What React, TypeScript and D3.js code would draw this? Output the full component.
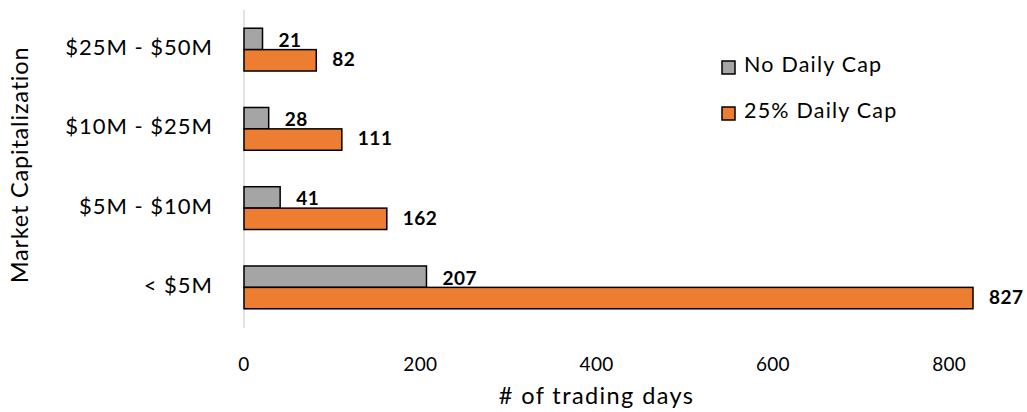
import React from 'react';
import * as d3 from 'd3';

const WIDTH = 1027;
const HEIGHT = 412;

const categories = ['$25M - $50M', '$10M - $25M', '$5M - $10M', '< $5M'];
const noCapValues = [21, 28, 41, 207];
const dailyCapValues = [82, 111, 162, 827];
const seriesNames = ['No Daily Cap', '25% Daily Cap'];
const seriesColors = ['#a5a5a5', '#ed7d31'];
const xTicks = [0, 200, 400, 600, 800];

const FONT = 'Lato, "Open Sans", sans-serif';

const margin = {top: 10, right: 54, bottom: 85, left: 244};

export default function App() {
    const xScale = d3.scaleLinear()
        .domain([0, 827])
        .range([margin.left, 973]);

    const yScale = d3.scaleBand<string>()
        .domain(categories)
        .range([margin.top, HEIGHT - margin.bottom])
        .paddingInner(0.46)
        .paddingOuter(0.23);

    const barH = yScale.bandwidth() / 2;
    const series = [noCapValues, dailyCapValues];
    const plotMidX = (xScale(0) + xScale(800)) / 2;

    return (
        <svg width={WIDTH} height={HEIGHT}
             style={{position: 'absolute', left: 0, top: 0, background: 'white'}}>
            {/* vertical axis line */}
            <line x1={xScale(0)} x2={xScale(0)} y1={margin.top} y2={HEIGHT - margin.bottom + 1}
                  stroke="#d9d9d9" strokeWidth={1.5}/>

            {/* bars */}
            {categories.map((cat, i) => (
                <g key={cat}>
                    {series.map((vals, s) => {
                        const y = (yScale(cat) || 0) + s * barH;
                        return (
                            <g key={s}>
                                <rect x={xScale(0)} y={y}
                                      width={xScale(vals[i]) - xScale(0)} height={barH}
                                      fill={seriesColors[s]} stroke="#000" strokeWidth={1.5}/>
                                <text x={xScale(vals[i]) + 16} y={y + barH / 2 + (s === 0 ? 3 : 1)}
                                      dominantBaseline="middle" fontFamily={FONT} fontWeight="bold"
                                      fontSize={19} letterSpacing={0.5} fill="#000">{vals[i]}</text>
                            </g>
                        );
                    })}
                    <text x={213} y={(yScale(cat) || 0) + yScale.bandwidth() / 2}
                          textAnchor="end" dominantBaseline="middle" fontFamily={FONT}
                          fontSize={22} letterSpacing={1} fill="#000">{cat}</text>
                </g>
            ))}

            {/* x tick labels */}
            {xTicks.map(t => (
                <text key={t} x={xScale(t)} y={366} textAnchor="middle" dominantBaseline="middle"
                      fontFamily={FONT} fontSize={19} letterSpacing={0.3} fill="#000">{t}</text>
            ))}

            {/* axis titles */}
            <text x={plotMidX} y={398} textAnchor="middle" dominantBaseline="middle"
                  fontFamily={FONT} fontSize={23.5} letterSpacing={1.4} fill="#000"># of trading days</text>
            <text transform="translate(22,165) rotate(-90)" textAnchor="middle"
                  dominantBaseline="middle" fontFamily={FONT} fontSize={23.5} letterSpacing={0.8}
                  fill="#000">Market Capitalization</text>

            {/* legend */}
            {seriesNames.map((name, s) => (
                <g key={name} transform={`translate(722,${61 + s * 46})`}>
                    <rect x={0} y={0} width={13} height={13} fill={seriesColors[s]}
                          stroke="#000" strokeWidth={1.5}/>
                    <text x={22} y={6} dominantBaseline="middle" fontFamily={FONT}
                          fontSize={21.5} letterSpacing={1.2} fill="#000">{name}</text>
                </g>
            ))}
        </svg>
    );
}
